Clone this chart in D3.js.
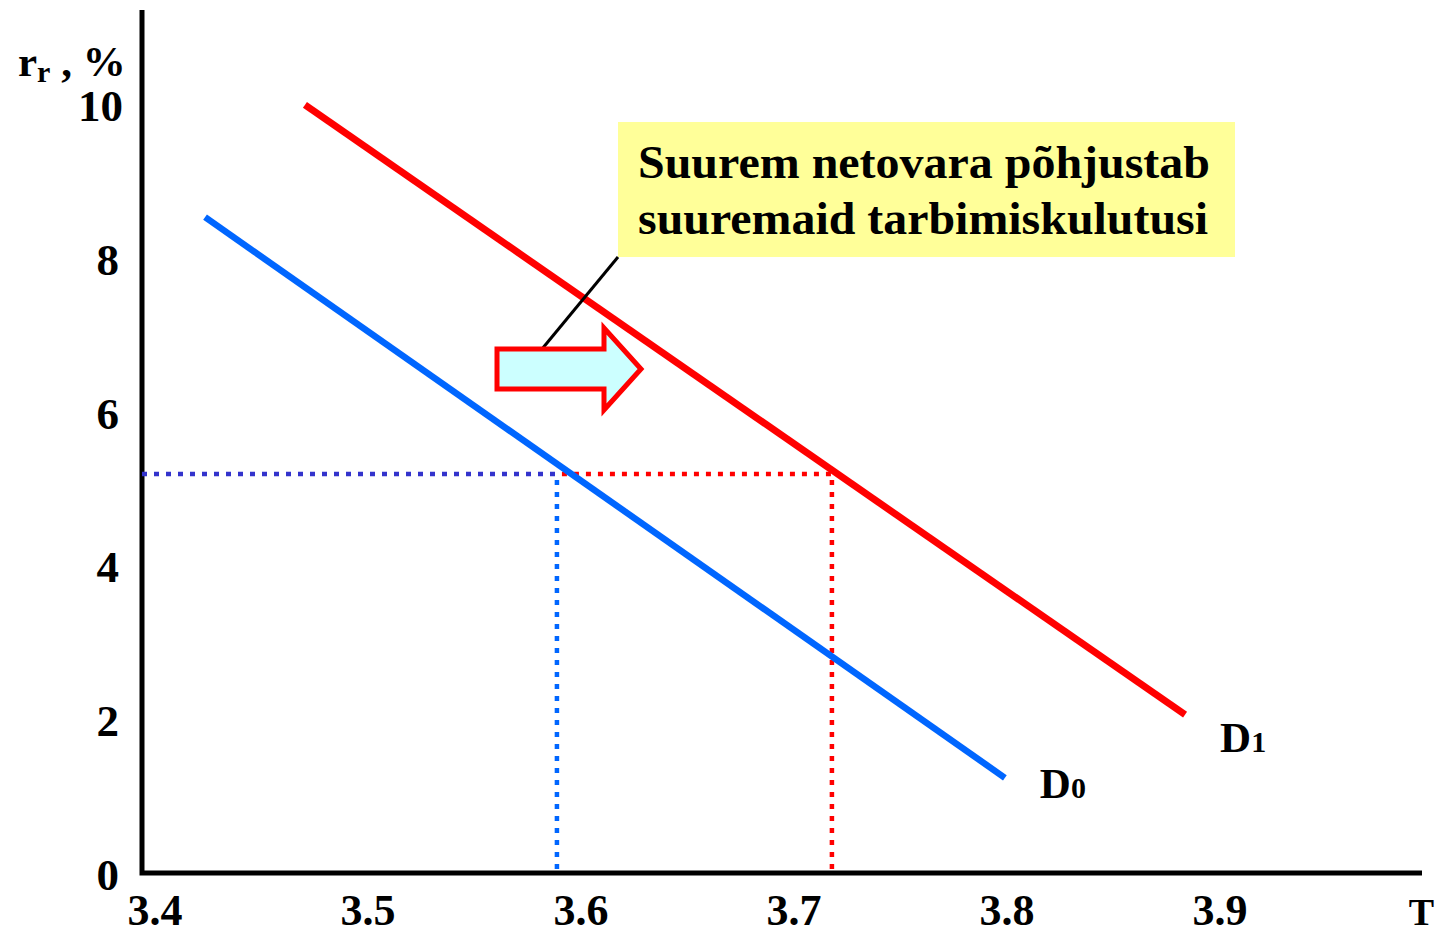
<!DOCTYPE html>
<html>
<head>
<meta charset="utf-8">
<script src="https://cdn.jsdelivr.net/npm/d3@7"></script>
<style>
  body { margin: 0; background: #fff; }
  text { font-family: "Liberation Serif", "Times New Roman", serif; font-weight: bold; }
</style>
</head>
<body>
<svg id="chart" width="1438" height="936"></svg>
<script>
// data
const xTicks = [3.4, 3.5, 3.6, 3.7, 3.8, 3.9]
const yTicks = [0, 2, 4, 6, 8, 10]
const d0 = [[3.4235, 8.58], [3.799, 1.29]]
const d1 = [[3.4704, 10.04], [3.8836, 2.11]]
const rEq = 5.24
const qD0 = 3.5887
const qD1 = 3.7178
const note = ["Suurem netovara põhjustab", "suuremaid tarbimiskulutusi"]

const svg = d3.select('#chart')

const x = d3.scaleLinear().domain([3.4, 3.9]).range([155, 1220])
const y = d3.scaleLinear().domain([0, 10]).range([877, 108])

const axisX0 = 142, axisY0 = 873

// axes
svg.append('path')
    .attr('d', `M${axisX0},10 V${axisY0} H1422`)
    .attr('fill', 'none')
    .attr('stroke', 'black')
    .attr('stroke-width', 5)

svg.selectAll('.xlab')
    .data(xTicks)
    .join('text')
    .attr('x', d => x(d))
    .attr('y', 925)
    .attr('text-anchor', 'middle')
    .attr('font-size', 44)
    .text(d => d.toFixed(1))

svg.selectAll('.ylab')
    .data(yTicks)
    .join('text')
    .attr('x', d => d === 10 ? 123 : 119)
    .attr('y', d => y(d) + 13)
    .attr('text-anchor', 'end')
    .attr('font-size', 45)
    .text(d => d)

svg.append('text')
    .attr('x', 18)
    .attr('y', 76)
    .attr('font-size', 43)
    .call(t => t.append('tspan').text('r'))
    .call(t => t.append('tspan').attr('font-size', 30).attr('dy', 6).text('r'))
    .call(t => t.append('tspan').attr('dy', -6).text(' , %'))

svg.append('text')
    .attr('x', 1434)
    .attr('y', 925)
    .attr('text-anchor', 'end')
    .attr('font-size', 38)
    .text('T')

// dotted guides
const dots = (x1, y1, x2, y2, color) => svg.append('line')
    .attr('x1', x1).attr('y1', y1).attr('x2', x2).attr('y2', y2)
    .attr('stroke', color)
    .attr('stroke-width', 4.5)
    .attr('stroke-dasharray', '5 7')

dots(axisX0, y(rEq), x(qD0), y(rEq), '#3333cc')
dots(x(qD0) + 5, y(rEq), x(qD1), y(rEq), '#ff0000')
dots(x(qD0), y(rEq) + 6, x(qD0), axisY0, '#0066ff')
dots(x(qD1), y(rEq) + 6, x(qD1), axisY0, '#ff0000')

// demand curves
const line = d3.line().x(d => x(d[0])).y(d => y(d[1]))

svg.append('path')
    .datum(d0)
    .attr('d', line)
    .attr('stroke', '#0066ff')
    .attr('stroke-width', 6.5)
    .attr('fill', 'none')

svg.append('path')
    .datum(d1)
    .attr('d', line)
    .attr('stroke', '#ff0000')
    .attr('stroke-width', 7)
    .attr('fill', 'none')

svg.append('text')
    .attr('x', x(d0[1][0]) + 35)
    .attr('y', y(d0[1][1]) + 20)
    .attr('font-size', 43)
    .call(t => t.append('tspan').text('D'))
    .call(t => t.append('tspan').attr('font-size', 30).text('0'))

svg.append('text')
    .attr('x', x(d1[1][0]) + 35)
    .attr('y', y(d1[1][1]) + 37)
    .attr('font-size', 43)
    .call(t => t.append('tspan').text('D'))
    .call(t => t.append('tspan').attr('font-size', 30).text('1'))

// callout
svg.append('rect')
    .attr('x', 618).attr('y', 122)
    .attr('width', 617).attr('height', 135)
    .attr('fill', '#ffff99')

svg.selectAll('.note')
    .data(note)
    .join('text')
    .attr('x', 638)
    .attr('y', (d, i) => 178 + i * 56)
    .attr('font-size', 46)
    .attr('textLength', (d, i) => i === 0 ? 572 : 570)
    .attr('lengthAdjust', 'spacingAndGlyphs')
    .text(d => d)

svg.append('line')
    .attr('x1', 618).attr('y1', 257)
    .attr('x2', 542).attr('y2', 349)
    .attr('stroke', 'black')
    .attr('stroke-width', 3)

// block arrow
svg.append('path')
    .attr('d', 'M497,349 H604 V328 L641,369 L604,410 V389 H497 Z')
    .attr('fill', '#ccffff')
    .attr('stroke', '#ff0000')
    .attr('stroke-width', 5)
</script>
</body>
</html>
